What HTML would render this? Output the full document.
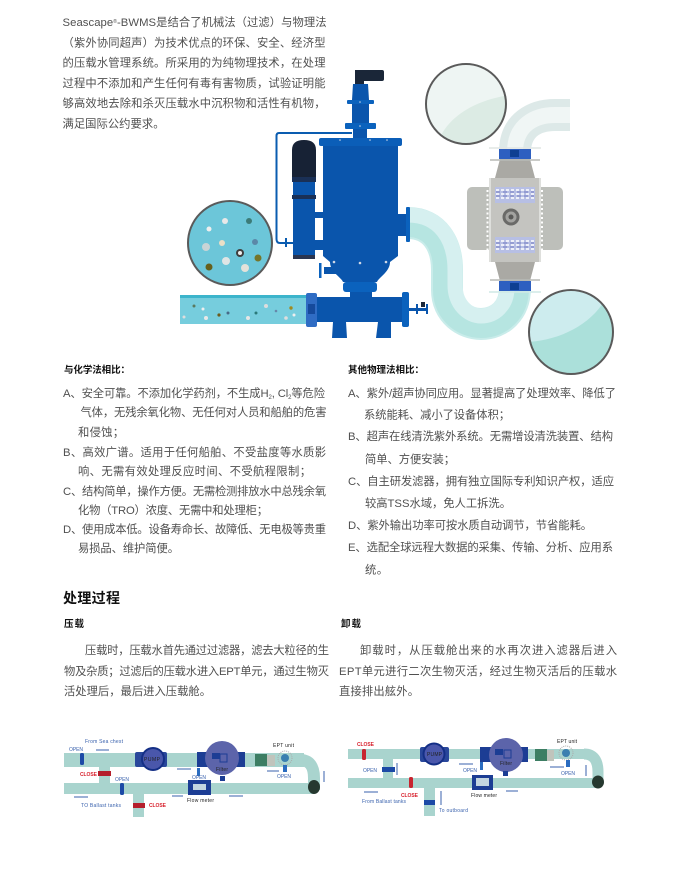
<!DOCTYPE html>
<html lang="zh"><head><meta charset="utf-8"><title>Seascape-BWMS</title>
<style>
html,body{margin:0;padding:0;background:#fff}
svg{display:block}
text{font-family:"Liberation Sans","Noto Sans CJK SC",sans-serif}
.t{font-size:11.3px;fill:#505050}
.b{font-size:9.5px;font-weight:700;fill:#111}
.bl{font-size:5px;fill:#3a62ad}
.rd{font-size:5px;fill:#d8232f;font-weight:700}
.bk{font-size:5px;fill:#222}
.soft{filter:blur(.35px)}
</style></head><body>
<svg width="678" height="879" viewBox="0 0 678 879" xmlns="http://www.w3.org/2000/svg">
<defs>
<clipPath id="c1"><circle cx="571" cy="332" r="42"/></clipPath>
<clipPath id="c2"><circle cx="466" cy="104" r="40"/></clipPath>
</defs>
<rect width="678" height="879" fill="#fff"/>

<!-- intro -->
<g class="t">
<text x="62.5" y="26" textLength="264">Seascape<tspan font-size="5" dy="-3">®</tspan><tspan dy="3">-BWMS是结合了机械法（过滤）与物理法</tspan></text>
<text x="62.5" y="46.5" textLength="263">（紫外协同超声）为技术优点的环保、安全、经济型</text>
<text x="62.5" y="66.5" textLength="263">的压载水管理系统。所采用的为纯物理技术，在处理</text>
<text x="62.5" y="87" textLength="263">过程中不添加和产生任何有毒有害物质，试验证明能</text>
<text x="62.5" y="107" textLength="263">够高效地去除和杀灭压载水中沉积物和活性有机物，</text>
<text x="62.5" y="127.5" textLength="102">满足国际公约要求。</text>
</g>

<g class="soft">
<!-- clear pipes -->
<g fill="none">
<path d="M408 223 C435 223 447 245 447 270 L447 290 C447 312 465 324 481 324 C500 324 515 310 515 288" stroke="#c9ecea" stroke-width="32"/>
<path d="M408 223 C435 223 447 245 447 270 L447 290 C447 312 465 324 481 324 C500 324 515 310 515 288" stroke="#b6e5e1" stroke-width="28"/>
<path d="M408 215 C440 215 455 240 455 270 L455 285 C455 304 468 316 481 316 C495 316 507 305 507 288" stroke="#d6f0f0" stroke-width="15"/>
<path d="M515 152 C515 125 535 115 555 115 L570 115" stroke="#dde9e8" stroke-width="32"/>
<path d="M515 152 C515 125 535 115 555 115 L570 115" stroke="#f0f6f5" stroke-width="16"/>
</g>

<!-- inlet pipe -->
<rect x="180" y="295" width="128" height="29" fill="#76cddd"/>
<rect x="180" y="295" width="128" height="3" fill="#3cb4cb"/>
<g fill="#5a7a60">
<circle cx="194" cy="306" r="1.5"/><circle cx="203" cy="309" r="1.5" fill="#eee"/><circle cx="206" cy="318" r="2" fill="#e8e8e8"/><circle cx="219" cy="315" r="1.6" fill="#6b5c1e"/><circle cx="228" cy="313" r="1.5" fill="#476a88"/><circle cx="248" cy="318" r="2" fill="#e6e6e6"/><circle cx="256" cy="313" r="1.5" fill="#2b7a7a"/><circle cx="266" cy="306" r="2" fill="#ddd"/><circle cx="276" cy="311" r="1.3" fill="#68a"/><circle cx="291" cy="308" r="1.7" fill="#a08a20"/><circle cx="286" cy="318" r="1.8" fill="#ddd"/><circle cx="294" cy="315" r="1.5" fill="#eee"/><circle cx="184" cy="317" r="1.5" fill="#ddd"/>
</g>

<!-- filter assembly -->
<g fill="#0a55ac">
<rect x="355" y="70" width="29" height="11" rx="2" fill="#1a2638"/>
<rect x="355" y="70" width="9" height="14" fill="#1a2638"/>
<path d="M352 100 L353 84 L368 84 L369 100Z"/>
<rect x="347" y="100" width="27" height="4" rx="1" fill="#0b62bd"/>
<rect x="352" y="104" width="17" height="19"/>
<rect x="345" y="123" width="31" height="6" rx="1" fill="#0b62bd"/>
<rect x="353" y="129" width="14" height="9"/>
<rect x="319" y="138" width="83" height="8" rx="2" fill="#0b5eb8"/>
<rect x="323" y="146" width="75" height="104"/>
<path d="M323 250 L398 250 L398 256 L390 262 C390 272 378 278 377 282 L343 282 C342 278 330 272 330 262 L323 256Z"/>
<rect x="343" y="282" width="34" height="10" rx="3" fill="#0b62bd"/>
<rect x="350" y="292" width="22" height="7"/>
<rect x="313" y="297" width="90" height="25"/>
<rect x="402" y="292" width="7" height="35" rx="2" fill="#0b62bd"/>
<path d="M333 322 H346 L347 338 H332Z"/>
<path d="M378 322 H391 L391 338 H376Z"/>
<rect x="409" y="308" width="9" height="3"/>
<rect x="416" y="304" width="2" height="10"/>
<rect x="426" y="304" width="2" height="10"/>
<rect x="418" y="308" width="8" height="3"/>
<rect x="421" y="302" width="4" height="5" fill="#1a2638"/>
<rect x="398" y="214" width="10" height="22"/>
<rect x="406" y="207" width="4" height="35" rx="1" fill="#0b62bd"/>
<rect x="324" y="267" width="12" height="7"/>
<rect x="319" y="263" width="2.5" height="15" fill="#0b62bd"/>
<rect x="315" y="212" width="9" height="6"/>
<rect x="315" y="240" width="9" height="10"/>
</g>
<path d="M352 133 H279 Q276.5 133 276.5 136 V239 Q276.5 243 280 243 H293" fill="none" stroke="#0a5cb0" stroke-width="2"/>
<rect x="285" y="238" width="2" height="9" fill="#0a5cb0"/>
<!-- motor -->
<path d="M292 177 V150 Q292 140 304 140 Q316 140 316 150 V177Z" fill="#172235"/>
<rect x="292" y="177" width="24" height="5" fill="#1a3056"/>
<rect x="293" y="182" width="22" height="76" fill="#0a55ac"/>
<rect x="292" y="195" width="24" height="4" fill="#1a3056"/>
<rect x="293" y="255" width="22" height="4" fill="#2a3550"/>
<!-- bolts -->
<g fill="#cfd8e6">
<circle cx="334" cy="262" r="1.3"/><circle cx="360" cy="263" r="1.3"/><circle cx="386" cy="262" r="1.3"/><circle cx="360" cy="102" r="0.8"/><circle cx="360" cy="126" r="0.8"/><circle cx="340" cy="140" r=".8"/><circle cx="370" cy="140" r=".8"/><circle cx="387" cy="140" r=".8"/>
</g>
<!-- blue collar on inlet -->
<rect x="306" y="293" width="11" height="34" rx="2" fill="#2f6cc4"/>
<rect x="308" y="304" width="7" height="10" fill="#154a9c"/>

<!-- UV unit -->
<rect x="467" y="187" width="96" height="63" rx="5" fill="#bdbfba"/>
<path d="M500 159 H530 L535 178 H495Z M495 262 H535 L530 281 H500Z" fill="#aaa9a4"/>
<rect x="489" y="178" width="52" height="84" fill="#c4c4c0"/>
<rect x="489" y="178" width="2" height="84" fill="#dedfdc"/><rect x="539" y="178" width="2" height="84" fill="#dedfdc"/>
<line x1="487.5" y1="190" x2="487.5" y2="250" stroke="#fff" stroke-width="2" stroke-dasharray="2 2.5"/>
<line x1="542" y1="190" x2="542" y2="250" stroke="#fff" stroke-width="2" stroke-dasharray="2 2.5"/>
<rect x="495" y="187" width="40" height="16" fill="#b7bfe4"/>
<rect x="495" y="237" width="40" height="16" fill="#b7bfe4"/>
<path d="M496 190 H534 M496 194 H534 M496 198 H534 M496 241 H534 M496 245 H534 M496 249 H534" stroke="#fff" stroke-width="1.4" stroke-dasharray="3 2"/>
<path d="M496 192 H534 M496 196 H534 M496 243 H534 M496 247 H534" stroke="#5a62b4" stroke-width=".7" stroke-dasharray="4 3"/>
<circle cx="511" cy="217" r="8.5" fill="#6a6a68"/>
<circle cx="511" cy="217" r="5.5" fill="#a3a3a0"/>
<circle cx="511" cy="217" r="2.5" fill="#5a5a58"/>
<g fill="#2e5fc0">
<rect x="499" y="149" width="32" height="10"/>
<rect x="499" y="281" width="32" height="10"/>
</g>
<g fill="#0d3f92">
<rect x="510" y="150" width="9" height="7"/>
<rect x="510" y="283" width="9" height="7"/>
</g>
<g stroke="#b8bab6" stroke-width="1.4">
<line x1="489" y1="148" x2="541" y2="148" stroke="#e1e6e4"/>
<line x1="490" y1="160" x2="540" y2="160"/>
<line x1="490" y1="280" x2="540" y2="280"/>
<line x1="489" y1="292" x2="541" y2="292" stroke="#cfe9e6"/>
</g>

<!-- zoom circles -->
<circle cx="230" cy="243" r="42" fill="#6cc6d9" stroke="#5a5a5a" stroke-width="2"/>
<g>
<circle cx="209" cy="229" r="2.5" fill="#eee"/><circle cx="225" cy="221" r="3" fill="#e8e8e8"/><circle cx="249" cy="221" r="3" fill="#3c7b78"/>
<circle cx="206" cy="247" r="4" fill="#c8d4d6"/><circle cx="222" cy="243" r="3" fill="#eadfc6"/><circle cx="240" cy="253" r="4" fill="#3e3e3e"/><circle cx="240" cy="253" r="2" fill="#eee"/><circle cx="255" cy="242" r="3" fill="#5b88a8"/>
<circle cx="209" cy="267" r="3.5" fill="#66601c"/><circle cx="226" cy="261" r="4" fill="#dfe5e5"/><circle cx="245" cy="268" r="4" fill="#e4e2da"/><circle cx="258" cy="258" r="3.5" fill="#75752a"/>
</g>
<circle cx="466" cy="104" r="40" fill="#eef5f3"/>
<path clip-path="url(#c2)" d="M436 150 C442 118 475 100 510 95 L510 150Z" fill="#dcebe4"/>
<circle cx="466" cy="104" r="40" fill="none" stroke="#5a5a5a" stroke-width="2"/>
<circle cx="571" cy="332" r="42" fill="#cdecee"/>
<path clip-path="url(#c1)" d="M528 342 C560 340 590 325 605 300 L620 300 L620 380 L528 380Z" fill="#abe0da"/>
<circle cx="571" cy="332" r="42" fill="none" stroke="#5a5a5a" stroke-width="2"/>
</g>

<!-- comparison -->
<text x="64" y="373" class="b" textLength="66">与化学法相比：</text>
<g class="t">
<text x="63" y="397" textLength="262">A、安全可靠。不添加化学药剂，不生成H<tspan font-size="6" dy="2">2</tspan><tspan dy="-2">, Cl</tspan><tspan font-size="6" dy="2">2</tspan><tspan dy="-2">等危险</tspan></text>
<text x="80.5" y="416" textLength="246">气体，无残余氧化物、无任何对人员和船舶的危害</text>
<text x="78" y="436" textLength="46">和侵蚀；</text>
<text x="63" y="456" textLength="263">B、高效广谱。适用于任何船舶、不受盐度等水质影</text>
<text x="78" y="475" textLength="233">响、无需有效处理反应时间、不受航程限制；</text>
<text x="63" y="495" textLength="263">C、结构简单，操作方便。无需检测排放水中总残余氧</text>
<text x="78" y="514" textLength="190">化物（TRO）浓度、无需中和处理柜；</text>
<text x="63" y="533" textLength="263">D、使用成本低。设备寿命长、故障低、无电极等贵重</text>
<text x="78" y="552" textLength="101">易损品、维护简便。</text>
</g>
<text x="348" y="373" class="b" textLength="76">其他物理法相比：</text>
<g class="t">
<text x="348" y="397" textLength="268">A、紫外/超声协同应用。显著提高了处理效率、降低了</text>
<text x="364" y="418.5" textLength="146">系统能耗、减小了设备体积；</text>
<text x="348" y="440" textLength="265">B、超声在线清洗紫外系统。无需增设清洗装置、结构</text>
<text x="365" y="463" textLength="90">简单、方便安装；</text>
<text x="348" y="485" textLength="266">C、自主研发滤器，拥有独立国际专利知识产权，适应</text>
<text x="365" y="507" textLength="146">较高TSS水域，免人工拆洗。</text>
<text x="348" y="529" textLength="244">D、紫外输出功率可按水质自动调节，节省能耗。</text>
<text x="348" y="551" textLength="265">E、选配全球远程大数据的采集、传输、分析、应用系</text>
<text x="365" y="573.5" textLength="23">统。</text>
</g>

<!-- process -->
<text x="63" y="603" font-size="14" font-weight="700" fill="#111" textLength="57">处理过程</text>
<text x="64" y="627" class="b" textLength="20">压载</text>
<text x="341" y="627" class="b" textLength="20">卸载</text>
<g class="t">
<text x="85" y="654" textLength="244">压载时，压载水首先通过过滤器，滤去大粒径的生</text>
<text x="64" y="675" textLength="265">物及杂质；过滤后的压载水进入EPT单元，通过生物灭</text>
<text x="64" y="695" textLength="147">活处理后，最后进入压载舱。</text>
<text x="360" y="654" textLength="257">卸载时，从压载舱出来的水再次进入滤器后进入</text>
<text x="339" y="675" textLength="278">EPT单元进行二次生物灭活，经过生物灭活后的压载水</text>
<text x="339" y="695" textLength="80">直接排出舷外。</text>
</g>

<!-- left diagram -->
<g class="soft">
<g fill="#a9d4ce">
<rect x="64" y="753" width="240" height="14"/>
<rect x="64" y="783" width="250" height="11"/>
<rect x="99" y="762" width="11" height="25"/>
<rect x="133" y="790" width="11" height="27"/>
</g>
<path d="M300 760 Q314 760 314 778 V790" fill="none" stroke="#a9d4ce" stroke-width="12"/>
<ellipse cx="314" cy="787" rx="6" ry="7" fill="#25382f"/>
<rect x="135" y="752" width="32" height="15" rx="2" fill="#29479b"/>
<circle cx="153" cy="759" r="12" fill="#142f86"/><circle cx="153" cy="759" r="10" fill="#4a57ab"/>
<rect x="197" y="752" width="48" height="15" fill="#1c3d94"/>
<circle cx="222" cy="758" r="17" fill="#5c64aa"/>
<rect x="212" y="753" width="8" height="6" fill="#1c3d94"/>
<rect x="220" y="754" width="7" height="8" fill="none" stroke="#1c3d94" stroke-width="1"/>
<rect x="220" y="776" width="5" height="5" fill="#1c3d94"/>
<rect x="188" y="780" width="23" height="15" fill="#1c3d94"/><rect x="193" y="784" width="13" height="6" fill="#c3d5e0"/>
<rect x="80" y="753" width="4" height="12" rx="1.5" fill="#1c4aa6"/>
<rect x="120" y="783" width="4" height="12" rx="1.5" fill="#1c4aa6"/>
<rect x="98" y="771" width="13" height="5" fill="#b41f2c"/><rect x="133" y="803" width="12" height="5" fill="#b41f2c"/>
<rect x="197" y="768" width="3" height="8" fill="#2a6cc0"/>
<rect x="255" y="754" width="12" height="12" fill="#3d7e63"/><rect x="267" y="755" width="8" height="11" fill="#c0c4bc"/>
<circle cx="285" cy="758" r="7" fill="none" stroke="#aaa" stroke-dasharray="1 1"/><circle cx="285" cy="758" r="4" fill="#3a7fb0"/>
<rect x="283" y="765" width="4" height="7" fill="#2a6cc0"/>
<g stroke="#3a62ad" stroke-width="1" fill="none">
<path d="M96 750 H109 M177 769 H191 M267 771 H279 M324 771 V782 M172 796 H183 M229 796 H243 M74 797 H88"/>
</g>
<text x="85" y="743" class="bl" textLength="38">From Sea chest</text>
<text x="69" y="751" class="bl" textLength="14">OPEN</text>
<text x="80" y="776" class="rd" textLength="17">CLOSE</text>
<text x="115" y="781" class="bl" textLength="14">OPEN</text>
<text x="192" y="779" class="bl" textLength="14">OPEN</text>
<text x="187" y="802" class="bk" textLength="27">Flow meter</text>
<text x="81" y="807" class="bl" textLength="40">TO Ballast tanks</text>
<text x="149" y="807" class="rd" textLength="17">CLOSE</text>
<text x="273" y="747" class="bk" textLength="21">EPT unit</text>
<text x="277" y="778" class="bl" textLength="14">OPEN</text>
<text x="144" y="761" class="bk" textLength="16">PUMP</text>
<text x="216" y="771" class="bk" textLength="12">Filter</text>
</g>

<!-- right diagram -->
<g class="soft">
<g fill="#a9d4ce">
<rect x="348" y="749" width="240" height="10"/>
<rect x="348" y="778" width="250" height="10"/>
<rect x="383" y="757" width="10" height="31"/>
<rect x="424" y="785" width="11" height="31"/>
</g>
<path d="M584 754 Q598 754 598 772 V784" fill="none" stroke="#a9d4ce" stroke-width="11"/>
<ellipse cx="598" cy="782" rx="6" ry="6.5" fill="#25382f"/>
<rect x="420" y="747" width="29" height="15" rx="2" fill="#29479b"/>
<circle cx="434" cy="754" r="11.5" fill="#142f86"/><circle cx="434" cy="754" r="9.5" fill="#4a57ab"/>
<rect x="480" y="747" width="48" height="15" fill="#1c3d94"/>
<circle cx="506" cy="755" r="17" fill="#5c64aa"/>
<rect x="495" y="749" width="8" height="6" fill="#1c3d94"/>
<rect x="504" y="750" width="7" height="8" fill="none" stroke="#1c3d94" stroke-width="1"/>
<rect x="503" y="771" width="5" height="5" fill="#1c3d94"/>
<rect x="472" y="775" width="21" height="15" fill="#1c3d94"/><rect x="476" y="778" width="13" height="8" fill="#c3d5e0"/>
<rect x="362" y="749" width="4" height="11" rx="1.5" fill="#c8242f"/>
<rect x="409" y="777" width="4" height="11" rx="1.5" fill="#c8242f"/>
<rect x="382" y="767" width="13" height="5" fill="#1c4aa6"/>
<rect x="424" y="800" width="11" height="5" fill="#1c4aa6"/>
<rect x="480" y="762" width="3" height="8" fill="#2a6cc0"/>
<rect x="535" y="749" width="12" height="12" fill="#3d7e63"/><rect x="547" y="750" width="7" height="11" fill="#c0c4bc"/>
<circle cx="566" cy="753" r="7" fill="none" stroke="#aaa" stroke-dasharray="1 1"/><circle cx="566" cy="753" r="4" fill="#3a7fb0"/>
<rect x="566" y="760" width="4" height="7" fill="#2a6cc0"/>
<g stroke="#3a62ad" stroke-width="1" fill="none">
<path d="M397 763 V775 M459 764 H473 M550 767 H564 M586 765 V776 M364 792 H378 M506 791 H518 M441 791 V805"/>
</g>
<text x="357" y="746" class="rd" textLength="17">CLOSE</text>
<text x="363" y="772" class="bl" textLength="14">OPEN</text>
<text x="401" y="797" class="rd" textLength="17">CLOSE</text>
<text x="362" y="803" class="bl" textLength="44">From Ballast tanks</text>
<text x="439" y="812" class="bl" textLength="29">To outboard</text>
<text x="463" y="772" class="bl" textLength="14">OPEN</text>
<text x="471" y="797" class="bk" textLength="26">Flow meter</text>
<text x="557" y="743" class="bk" textLength="20">EPT unit</text>
<text x="561" y="775" class="bl" textLength="14">OPEN</text>
<text x="427" y="756" class="bk" textLength="15">PUMP</text>
<text x="500" y="765" class="bk" textLength="12">Filter</text>
</g>
</svg>
</body></html>
